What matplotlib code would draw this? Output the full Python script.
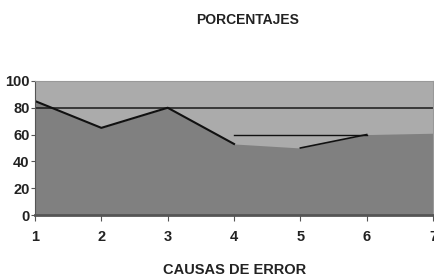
import matplotlib.pyplot as plt
import numpy as np

causas = [1, 2, 3, 4, 5, 6, 7]
porcentajes = [85, 65, 80, 53, 50, 60, 61]
# black trace lines drawn over the area
linea_a_x = [1, 2, 3, 4]
linea_a_y = [85, 65, 80, 53]
linea_b_x = [5, 6]
linea_b_y = [50, 60]
linea_c_x = [4, 6]
linea_c_y = [60, 60]
referencia = 80
yticks = [0, 20, 40, 60, 80, 100]

plt.rcParams['font.family'] = ['Liberation Sans', 'DejaVu Sans']

fig = plt.figure(figsize=(4.35, 2.8), dpi=100)
ax = fig.add_axes([0.0805, 0.232, 0.915, 0.479])
ax.set_facecolor('#ababab')

ax.fill_between(causas, porcentajes, 0, color='#808080', linewidth=0)
ax.axhline(referencia, color='#1a1a1a', linewidth=1.1)
ax.plot(linea_a_x, linea_a_y, color='#111111', linewidth=1.5)
ax.plot(linea_b_x, linea_b_y, color='#111111', linewidth=1.2)
ax.plot(linea_c_x, linea_c_y, color='#111111', linewidth=1.0)

ax.set_xlim(1, 7)
ax.set_ylim(0, 100)
ax.set_xticks(causas)
ax.set_yticks(yticks)
ax.tick_params(axis='both', labelsize=10.5, length=4, color='#555555', pad=7)
ax.tick_params(axis='y', pad=1, length=3)
for lab in ax.get_xticklabels() + ax.get_yticklabels():
    lab.set_fontweight('bold')
    lab.set_color('#222222')

ax.spines['top'].set_color('#999999')
ax.spines['right'].set_color('#999999')
ax.spines['left'].set_color('#555555')
ax.spines['bottom'].set_color('#555555')
ax.spines['bottom'].set_linewidth(2)

fig.text(0.57, 0.93, 'PORCENTAJES', ha='center', va='center',
         fontsize=10, fontweight='bold', color='#222222')
fig.text(0.54, 0.037, 'CAUSAS DE ERROR', ha='center', va='center',
         fontsize=10.5, fontweight='bold', color='#222222')

fig.savefig('out.png', dpi=100)
